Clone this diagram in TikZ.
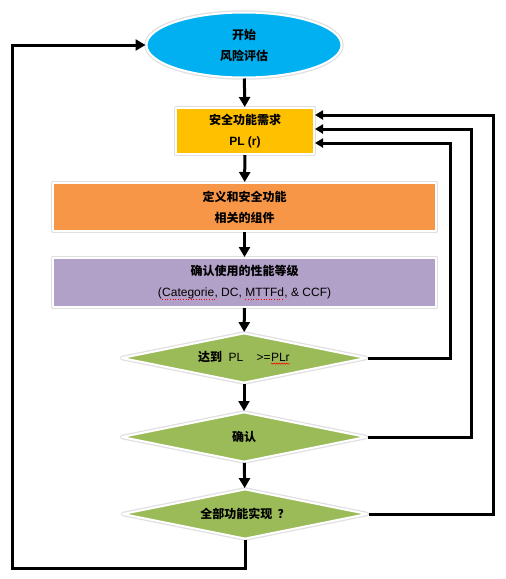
\documentclass[tikz,border=0pt]{standalone}
\usepackage{fontspec}
\setmainfont{Liberation Sans}
\newfontfamily\cjk{Noto Sans CJK SC}
\usetikzlibrary{positioning}
\usetikzlibrary{shapes.geometric}
\usetikzlibrary{arrows.meta}
\usetikzlibrary{decorations.pathmorphing}

\definecolor{startblue}{HTML}{00B0F0}
\definecolor{reqyellow}{HTML}{FFC000}
\definecolor{comporange}{HTML}{F79646}
\definecolor{catpurple}{HTML}{B1A0C7}
\definecolor{checkgreen}{HTML}{9BBB59}

\newcommand\zh[1]{{\cjk\bfseries #1}}
\newcommand\redwave[1]{\tikz[baseline=(w.base)]{\node[rectangle, draw=none, fill=none, inner sep=0pt, outer sep=0pt, minimum size=0pt] (w) {#1};
  \draw[red, line width=.5pt, decorate, decoration={snake, amplitude=.7pt, segment length=2.5pt}] ([yshift=-2pt]w.base west) -- ([yshift=-2pt]w.base east);}}
\newcommand\reddots[1]{\tikz[baseline=(w.base)]{\node[rectangle, draw=none, fill=none, inner sep=0pt, outer sep=0pt, minimum size=0pt] (w) {#1};
  \draw[red, line width=.6pt, dotted] ([yshift=-2pt]w.base west) -- ([yshift=-2pt]w.base east);}}

\tikzset{
  glow/.style={draw=white, line width=2pt, line join=round, preaction={draw=black!12, line width=4.5pt, line join=round}},
  startnode/.style={ellipse, glow, fill=startblue, inner sep=0pt, minimum width=195pt, minimum height=65pt, align=center},
  box/.style={rectangle, glow, inner sep=2pt, align=center},
  check/.style={diamond, aspect=5, glow, fill=checkgreen, inner sep=1pt, minimum width=245pt, minimum height=50pt, align=center},
  flow/.style={line width=3pt, -{Triangle[width=11pt,length=10pt]}},
  back/.style={line width=3pt, -{Triangle[width=9pt,length=8pt]}},
}

\begin{document}
\begin{tikzpicture}[x=1pt, y=-1pt, font=\fontsize{12}{21}\selectfont]
\useasboundingbox (0,0) rectangle (506,579);

\node[startnode] (start) at (244,45) {\zh{开始}\\\zh{风险评估}};
\node[box, fill=reqyellow, minimum width=138pt, minimum height=46pt] (req) at (245,131) {\zh{安全功能需求}\\\textbf{PL (r)}};
\node[box, fill=comporange, minimum width=383pt, minimum height=48pt] (comp) at (244.5,207) {\zh{定义和安全功能}\\\zh{相关的组件}};
\node[box, fill=catpurple, minimum width=383pt, minimum height=49pt] (cat) at (244.5,282.5) {\zh{确认使用的性能等级}\\(\reddots{Categorie}, DC, \reddots{MTTFd}, \& CCF)};
\node[check] (reach) at (244,358) {\zh{达到}\ \ PL\ \ \ \ >=\redwave{PLr}};
\node[check] (verify) at (244,437) {\zh{确认}};
\node[check] (done) at (245,514) {\zh{全部功能实现\ \ ？}};

% main line
\draw[flow] (start) -- (req);
\draw[flow] (req) -- (comp);
\draw[flow] (comp) -- (cat);
\draw[flow] (cat) -- (reach);
\draw[flow] (reach) -- (verify);
\draw[flow] (verify) -- (done);

% back to the requirement
\draw[back] (reach.east) -| (450,143) -- ([yshift=-12pt]req.east);
\draw[back] (verify.east) -| (471,129) -- ([yshift=2pt]req.east);
\draw[back] (done.east) -| (493,115) -- ([yshift=16pt]req.east);

% back to the start
\draw[flow] (done.south) -- (245,568) -| (12,45) -- (start.west);
\end{tikzpicture}
\end{document}
